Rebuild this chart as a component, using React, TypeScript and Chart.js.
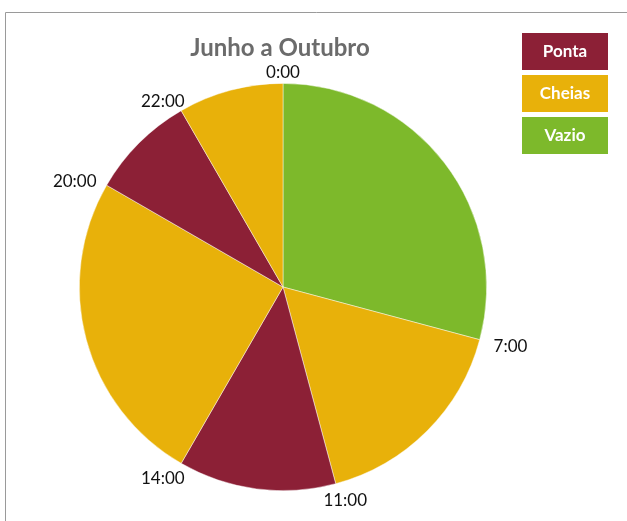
import React, { useEffect, useRef } from "react";
import { Chart, registerables } from "chart.js";

Chart.register(...registerables);

const title = "Junho a Outubro";
const hourLabels = ["0:00", "7:00", "11:00", "14:00", "20:00", "22:00"];
const tariffs = ["Vazio", "Cheias", "Ponta", "Cheias", "Ponta", "Cheias"];
const hours = [7, 4, 3, 6, 2, 2];
const legendItems = ["Ponta", "Cheias", "Vazio"];
const tariffColors: Record<string, string> = {
  Ponta: "#8C2036",
  Cheias: "#E8B10A",
  Vazio: "#7DB92B",
};

const FONT = "Lato, 'Open Sans', sans-serif";

const decorPlugin = {
  id: "decor",
  beforeDraw(chart: any) {
    const ctx = chart.ctx;
    ctx.save();
    ctx.strokeStyle = "#9a9a9a";
    ctx.lineWidth = 1;
    ctx.beginPath();
    ctx.moveTo(5.5, chart.height + 5);
    ctx.lineTo(5.5, 12.5);
    ctx.lineTo(chart.width + 5, 12.5);
    ctx.stroke();
    ctx.restore();
  },
  afterDraw(chart: any) {
    const ctx = chart.ctx;
    const meta = chart.getDatasetMeta(0);
    ctx.save();
    // title
    ctx.fillStyle = "#6B6B6B";
    ctx.font = `bold 24px ${FONT}`;
    ctx.textAlign = "center";
    ctx.textBaseline = "middle";
    const arc0 = meta.data[0];
    ctx.fillText(title, arc0.x - 3, 48);

    // hour labels at the start of each segment
    ctx.font = `17px ${FONT}`;
    ctx.fillStyle = "#111";
    meta.data.forEach((arc: any, i: number) => {
      const a = arc.startAngle;
      const ux = Math.cos(a);
      const uy = Math.sin(a);
      const r = arc.outerRadius;
      const px = arc.x + ux * r;
      const py = arc.y + uy * r;
      const w = ctx.measureText(hourLabels[i]).width;
      const cx = px + ux * (15 + w / 2);
      const cy = py + uy * 14 + 3;
      ctx.fillText(hourLabels[i], cx, cy);
    });

    // legend
    ctx.font = `bold 17px ${FONT}`;
    legendItems.forEach((name, i) => {
      const x = 522;
      const y = 33 + i * 42;
      ctx.fillStyle = tariffColors[name];
      ctx.fillRect(x, y, 86, 37);
      ctx.fillStyle = "#ffffff";
      ctx.fillText(name, x + 43, y + 19);
    });
    ctx.restore();
  },
};

export default function App() {
  const ref = useRef<HTMLCanvasElement>(null);
  useEffect(() => {
    if (!ref.current) return;
    const chart = new Chart(ref.current, {
      type: "pie",
      data: {
        labels: hourLabels,
        datasets: [
          {
            data: hours,
            backgroundColor: tariffs.map((t) => tariffColors[t]),
            borderColor: "rgba(255,255,255,0.6)",
            borderWidth: 0.75,
          },
        ],
      },
      options: {
        animation: false,
        responsive: false,
        layout: { padding: { left: 79, right: 140, top: 83, bottom: 30 } },
        plugins: {
          legend: { display: false },
          title: { display: false },
          tooltip: { enabled: false },
        },
      },
      plugins: [decorPlugin],
    });
    return () => chart.destroy();
  }, []);
  return (
    <div style={{ position: "fixed", left: 0, top: 0, width: 627, height: 521, background: "#fff" }}>
      <canvas ref={ref} width={627} height={521} style={{ display: "block", width: 627, height: 521 }} />
    </div>
  );
}
